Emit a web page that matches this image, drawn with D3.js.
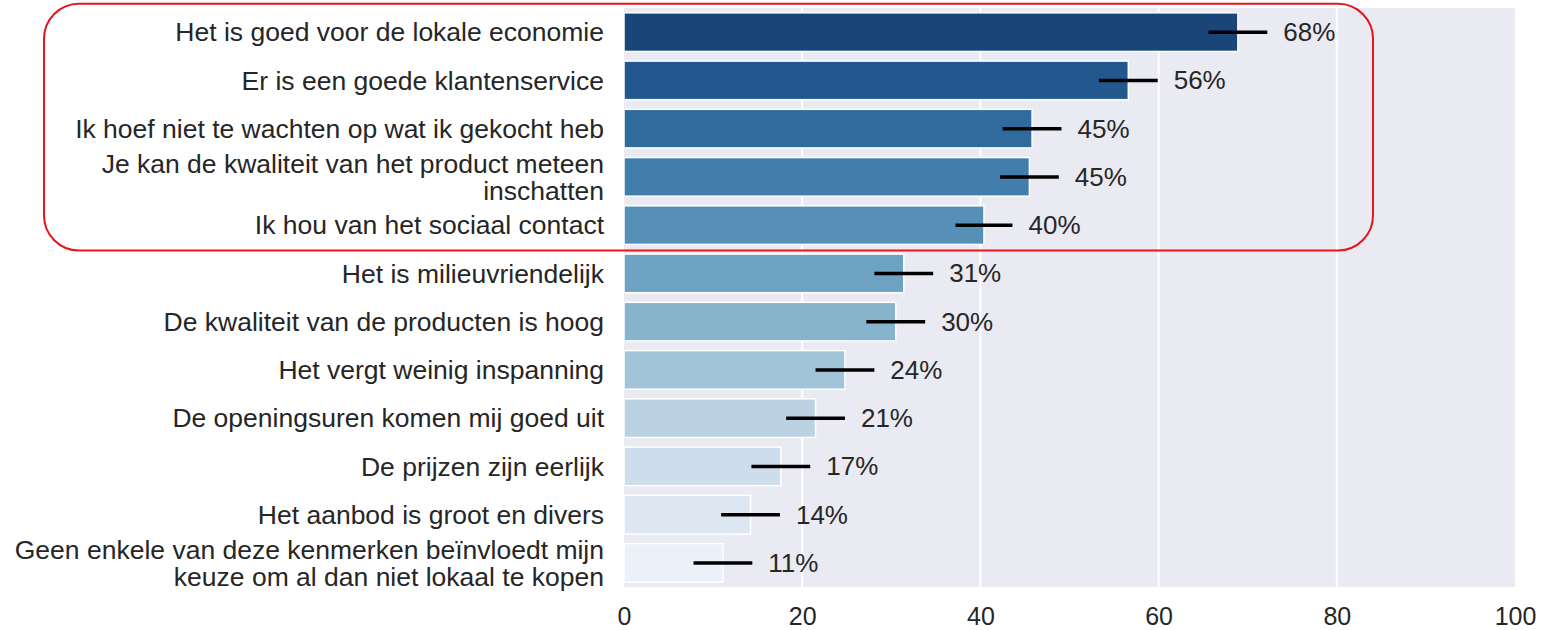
<!DOCTYPE html>
<html>
<head>
<meta charset="utf-8">
<script src="https://cdn.jsdelivr.net/npm/d3@7"></script>
<style>
  html, body { margin: 0; padding: 0; background: #ffffff; }
  svg { display: block; }
  text { font-family: "Liberation Sans", Arial, sans-serif; fill: #262626; }
</style>
</head>
<body>
<svg id="chart" width="1550" height="630"></svg>
<script>
// Reasons for buying locally (share of respondents, %)
const categories = [
  "Het is goed voor de lokale economie",
  "Er is een goede klantenservice",
  "Ik hoef niet te wachten op wat ik gekocht heb",
  "Je kan de kwaliteit van het product meteen\ninschatten",
  "Ik hou van het sociaal contact",
  "Het is milieuvriendelijk",
  "De kwaliteit van de producten is hoog",
  "Het vergt weinig inspanning",
  "De openingsuren komen mij goed uit",
  "De prijzen zijn eerlijk",
  "Het aanbod is groot en divers",
  "Geen enkele van deze kenmerken beïnvloedt mijn\nkeuze om al dan niet lokaal te kopen"
];
const values = [68.9, 56.6, 45.8, 45.5, 40.4, 31.4, 30.5, 24.8, 21.5, 17.6, 14.2, 11.1];
// half-width of the confidence interval around each estimate
const ciHalf = [3.3, 3.3, 3.3, 3.3, 3.2, 3.3, 3.3, 3.3, 3.3, 3.3, 3.3, 3.3];
const xTicks = [0, 20, 40, 60, 80, 100];
// the top five reasons get a highlight frame
const highlightCount = 5;

const svg = d3.select("#chart");
const plot = { left: 624, right: 1515, top: 8, bottom: 587 };
const catSize = 26.5;
const labelSize = 26;
const tickSize = 25;

const x = d3.scaleLinear().domain([0, 100]).range([plot.left, plot.right]);
const y = d3.scaleBand().domain(categories).range([plot.top, plot.bottom]).paddingInner(0.2).paddingOuter(0.1);

// Blues palette, dark to light, desaturated like seaborn bars
const n = categories.length;
const colors = d3.range(n).map(i => {
  const t = 1 - (i + 1) / (n + 1);
  const c = d3.hsl(d3.interpolateBlues(t));
  c.s *= 0.75;
  return c.formatHex();
});

// axes background
svg.append("rect")
  .attr("x", plot.left).attr("y", plot.top)
  .attr("width", plot.right - plot.left).attr("height", plot.bottom - plot.top)
  .attr("fill", "#eaeaf2");

// vertical grid lines
svg.append("g")
  .selectAll("line")
  .data(xTicks.slice(1, -1))
  .join("line")
  .attr("x1", d => x(d)).attr("x2", d => x(d))
  .attr("y1", plot.top).attr("y2", plot.bottom)
  .attr("stroke", "#ffffff").attr("stroke-width", 2);

// bars
svg.append("g")
  .selectAll("rect")
  .data(categories)
  .join("rect")
  .attr("x", x(0))
  .attr("y", d => y(d))
  .attr("width", (d, i) => x(values[i]) - x(0))
  .attr("height", y.bandwidth())
  .attr("fill", (d, i) => colors[i])
  .attr("stroke", "#ffffff")
  .attr("stroke-width", 1.5);

// error bars
svg.append("g")
  .selectAll("line")
  .data(categories)
  .join("line")
  .attr("x1", (d, i) => x(values[i] - ciHalf[i]))
  .attr("x2", (d, i) => x(values[i] + ciHalf[i]))
  .attr("y1", d => y(d) + y.bandwidth() / 2)
  .attr("y2", d => y(d) + y.bandwidth() / 2)
  .attr("stroke", "#000000")
  .attr("stroke-width", 3.5);

// value labels (whole percent)
svg.append("g")
  .selectAll("text")
  .data(categories)
  .join("text")
  .attr("x", (d, i) => x(values[i] + ciHalf[i]) + 16)
  .attr("y", d => y(d) + y.bandwidth() / 2)
  .attr("dy", "0.35em")
  .attr("font-size", labelSize)
  .text((d, i) => Math.floor(values[i]) + "%");

// category labels (multi-line where needed)
const lineH = 27;
const catG = svg.append("g");
categories.forEach(cat => {
  const lines = cat.split("\n");
  const cy = y(cat) + y.bandwidth() / 2;
  const t = catG.append("text")
    .attr("text-anchor", "end")
    .attr("font-size", catSize);
  lines.forEach((ln, j) => {
    t.append("tspan")
      .attr("x", plot.left - 20)
      .attr("y", cy + (j - (lines.length - 1) / 2) * lineH)
      .attr("dy", "0.35em")
      .text(ln);
  });
});

// x axis
const xAxis = d3.axisBottom(x).tickValues(xTicks).tickSize(0).tickPadding(20);
const gx = svg.append("g")
  .attr("transform", `translate(0,${plot.bottom})`)
  .call(xAxis);
gx.select(".domain").remove();
gx.selectAll("text")
  .attr("font-size", tickSize)
  .attr("fill", "#262626")
  .style("font-family", '"Liberation Sans", Arial, sans-serif');

// highlight frame around the top reasons
const hTop = y(categories[0]) - 9;
const hBottom = y(categories[highlightCount - 1]) + y.bandwidth() + 6;
svg.append("rect")
  .attr("x", 44).attr("y", hTop)
  .attr("width", 1373 - 44).attr("height", hBottom - hTop)
  .attr("rx", 35).attr("ry", 35)
  .attr("fill", "none")
  .attr("stroke", "#e8141c")
  .attr("stroke-width", 2);
</script>
</body>
</html>
